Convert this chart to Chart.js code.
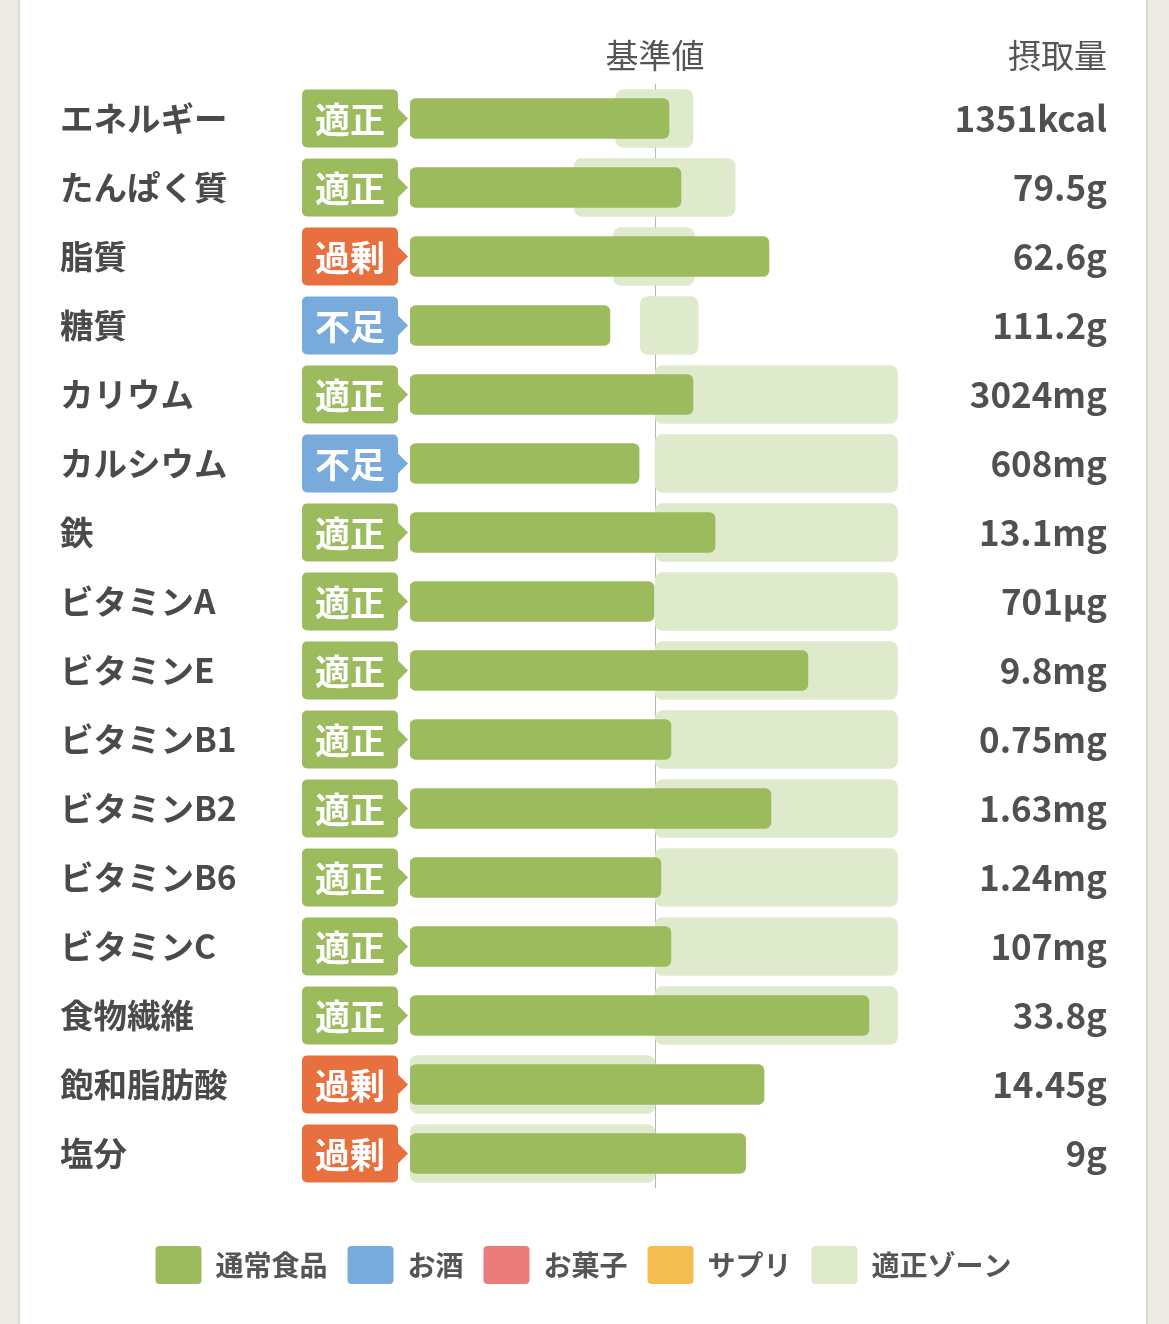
<!DOCTYPE html>
<html lang="ja">
<head>
<meta charset="utf-8">
<title>栄養素の摂取状況</title>
<script src="https://cdn.jsdelivr.net/npm/chart.js@4.4.1/dist/chart.umd.min.js"></script>
<style>
  html, body { margin: 0; padding: 0; }
  body {
    width: 1169px; height: 1324px; overflow: hidden;
    background: linear-gradient(to right, #ebeae4 0, #ebeae4 18px, #dad8d1 18px, #dad8d1 20px,
      #fff 20px, #fff 1146px, #dad8d1 1146px, #dad8d1 1148px, #ebeae4 1148px);
  }
  #chart { position: absolute; left: 0; top: 0; }
</style>
</head>
<body>
<canvas id="chart" width="1169" height="1324"></canvas>
<script>
// nutrients, top to bottom
const nutrients = ['エネルギー', 'たんぱく質', '脂質', '糖質', 'カリウム', 'カルシウム', '鉄',
  'ビタミンA', 'ビタミンE', 'ビタミンB1', 'ビタミンB2', 'ビタミンB6', 'ビタミンC',
  '食物繊維', '飽和脂肪酸', '塩分'];
const intakeLabels = ['1351kcal', '79.5g', '62.6g', '111.2g', '3024mg', '608mg', '13.1mg',
  '701µg', '9.8mg', '0.75mg', '1.63mg', '1.24mg', '107mg', '33.8g', '14.45g', '9g'];
const status = ['適正', '適正', '過剰', '不足', '適正', '不足', '適正', '適正', '適正',
  '適正', '適正', '適正', '適正', '適正', '過剰', '過剰'];

// intake as % of the reference value (基準値 = 100)
const foodPct = [105.7, 110.6, 146.5, 81.6, 115.5, 93.5, 124.5, 99.6, 162.4,
  106.5, 147.3, 102.4, 106.5, 187.3, 144.5, 137];
const alcoholPct = [];
const snackPct = [];
const supplementPct = [];

// 適正ゾーン (% of reference)
const zoneLow = [84, 67, 83, 94, 100, 100, 100, 100, 100, 100, 100, 100, 100, 100, 0, 0];
const zoneHigh = [115.5, 132.7, 116, 117.6, 199, 199, 199, 199, 199, 199, 199, 199, 199, 199, 100, 100];

const xTicks = [100];

const FONT = '"Noto Sans CJK JP", "Noto Sans", sans-serif';
const badgeColors = { '適正': '#9bbb5c', '過剰': '#e8703f', '不足': '#78aadb' };

Chart.defaults.font.family = FONT;

const badgePlugin = {
  id: 'badges',
  afterDraw(chart) {
    const ctx = chart.ctx;
    const y = chart.scales.y;
    const area = chart.chartArea;
    ctx.save();
    status.forEach((s, i) => {
      const cy = y.getPixelForValue(i);
      const x0 = area.left - 108, w = 96, h = 58;
      ctx.fillStyle = badgeColors[s];
      ctx.beginPath();
      ctx.roundRect(x0, cy - h / 2, w, h, 5);
      ctx.fill();
      ctx.beginPath();
      ctx.moveTo(x0 + w - 1, cy - 11);
      ctx.lineTo(x0 + w + 10, cy);
      ctx.lineTo(x0 + w - 1, cy + 11);
      ctx.closePath();
      ctx.fill();
      ctx.fillStyle = '#fff';
      ctx.font = 'bold 35px ' + FONT;
      ctx.textAlign = 'center';
      ctx.textBaseline = 'middle';
      ctx.fillText(s, x0 + w / 2, cy + 1);
    });
    // header over the intake column
    ctx.fillStyle = '#555';
    ctx.font = '33px ' + FONT;
    ctx.textAlign = 'right';
    ctx.textBaseline = 'middle';
    ctx.fillText('摂取量', chart.scales.yr.right, 55);
    ctx.restore();
  }
};

new Chart(document.getElementById('chart'), {
  type: 'bar',
  data: {
    labels: nutrients,
    datasets: [
      { label: '通常食品', data: foodPct, backgroundColor: '#9bbb5c', barThickness: 40,
        borderRadius: 6, borderSkipped: false, grouped: false, order: 1 },
      { label: 'お酒', data: alcoholPct, backgroundColor: '#78aadb', barThickness: 40,
        borderRadius: 6, borderSkipped: false, grouped: false, order: 1 },
      { label: 'お菓子', data: snackPct, backgroundColor: '#ec7b7b', barThickness: 40,
        borderRadius: 6, borderSkipped: false, grouped: false, order: 1 },
      { label: 'サプリ', data: supplementPct, backgroundColor: '#f4bd50', barThickness: 40,
        borderRadius: 6, borderSkipped: false, grouped: false, order: 1 },
      { label: '適正ゾーン', data: zoneLow.map((lo, i) => [lo, zoneHigh[i]]), backgroundColor: '#dfe9cc',
        barThickness: 58, borderRadius: 8, borderSkipped: false, grouped: false, order: 5 }
    ]
  },
  options: {
    indexAxis: 'y',
    responsive: false,
    animation: false,
    layout: { padding: { left: 60, right: 62, top: 30, bottom: 30 } },
    scales: {
      x: {
        position: 'top',
        min: 0,
        max: 200,
        z: 1,
        afterBuildTicks: (scale) => { scale.ticks = xTicks.map(v => ({ value: v })); },
        afterFit: (scale) => { scale.height = 54; },
        ticks: {
          callback: () => '基準値',
          color: '#555',
          padding: 9,
          font: { size: 33 }
        },
        grid: { color: 'rgba(110,110,110,0.5)', lineWidth: 1, drawTicks: false },
        border: { display: false }
      },
      y: {
        offset: true,
        afterFit: (scale) => { scale.width = 350; },
        grid: { display: false },
        border: { display: false },
        ticks: { crossAlign: 'far', color: '#4a4a4a', autoSkip: false,
          font: { size: 33.5, weight: 'bold' } }
      },
      yr: {
        type: 'category',
        labels: intakeLabels,
        position: 'right',
        offset: true,
        afterFit: (scale) => { scale.width = 207; },
        grid: { display: false },
        border: { display: false },
        ticks: { crossAlign: 'far', color: '#505050', autoSkip: false,
          font: { size: 35, weight: 'bold' } }
      }
    },
    plugins: {
      tooltip: { enabled: false },
      legend: {
        position: 'bottom',
        title: { display: true, text: '', font: { size: 10 }, padding: { top: 26, bottom: 0 } },
        labels: {
          boxWidth: 46,
          boxHeight: 38,
          useBorderRadius: true,
          borderRadius: 4,
          padding: 20,
          color: '#555',
          font: { size: 28, weight: 'bold' }
        }
      }
    }
  },
  plugins: [badgePlugin]
});
</script>
</body>
</html>
